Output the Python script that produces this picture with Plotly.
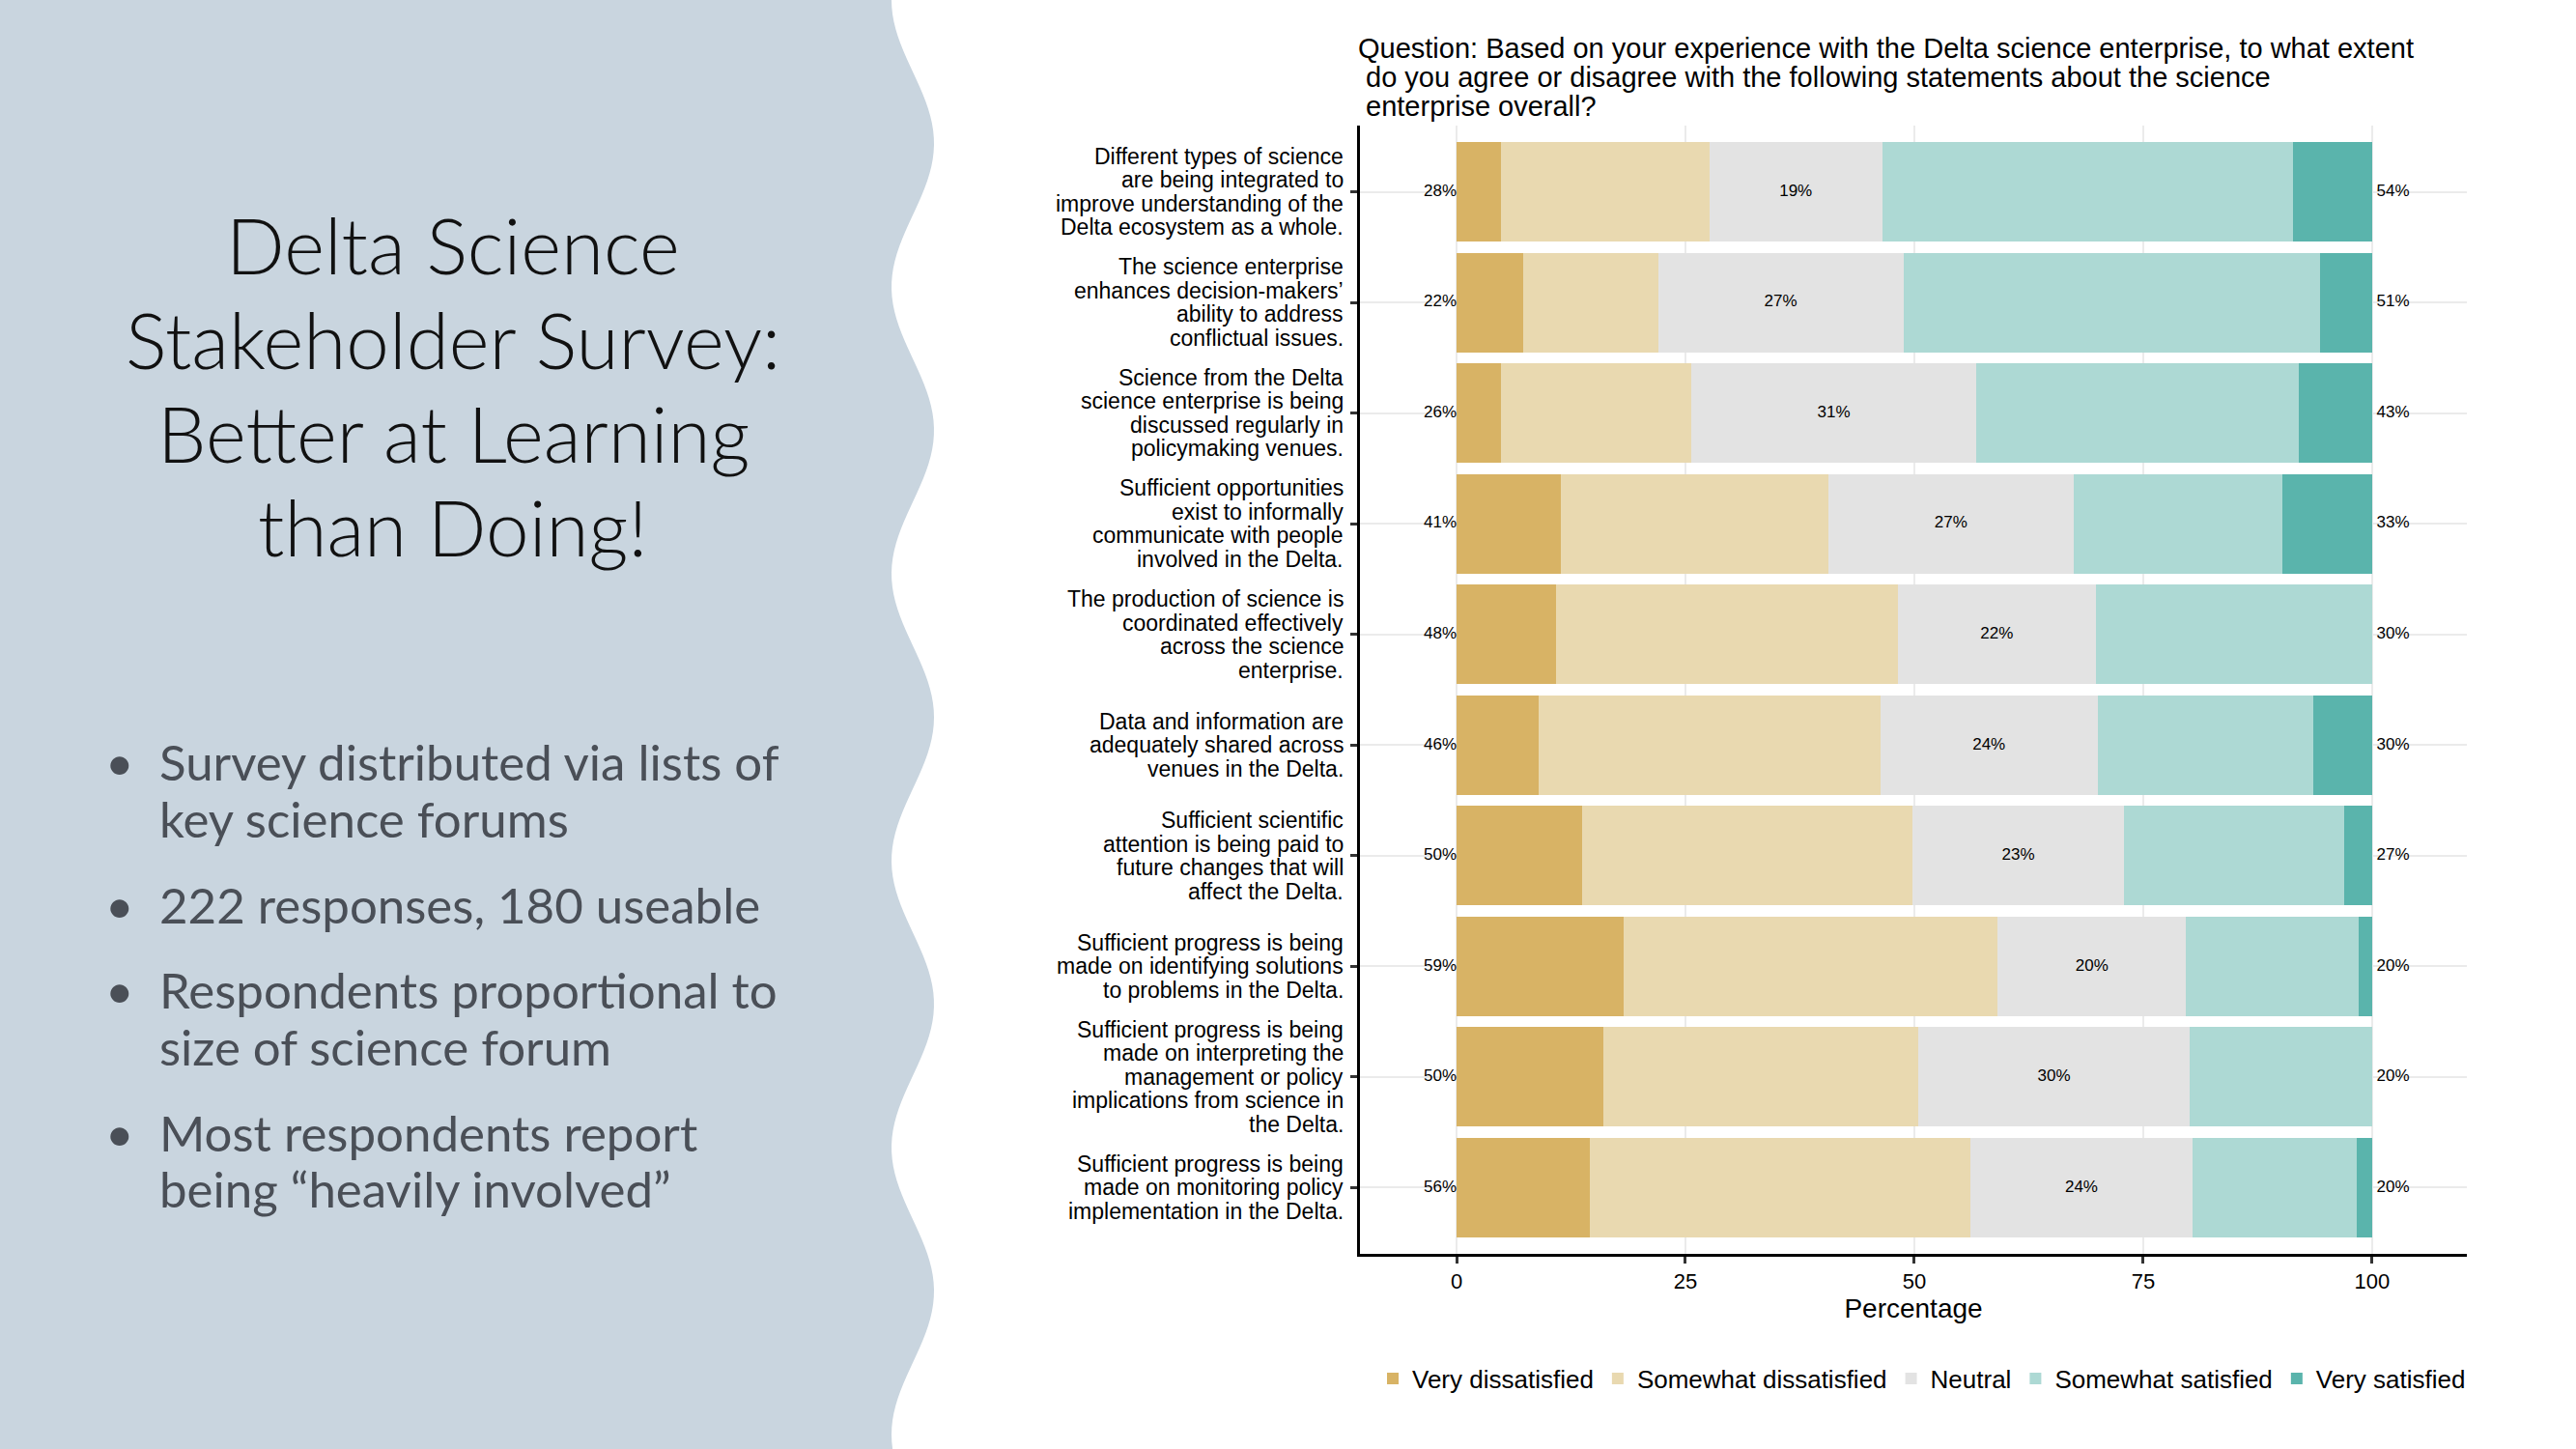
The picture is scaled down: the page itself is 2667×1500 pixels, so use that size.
import numpy as np
import plotly.graph_objects as go

W, H = 2667, 1500

# statements, top to bottom
statements = [
    "Different types of science<br>are being integrated to<br>improve understanding of the<br>Delta ecosystem as a whole.",
    "The science enterprise<br>enhances decision-makers’<br>ability to address<br>conflictual issues.",
    "Science from the Delta<br>science enterprise is being<br>discussed regularly in<br>policymaking venues.",
    "Sufficient opportunities<br>exist to informally<br>communicate with people<br>involved in the Delta.",
    "The production of science is<br>coordinated effectively<br>across the science<br>enterprise.",
    "Data and information are<br>adequately shared across<br>venues in the Delta.",
    "Sufficient scientific<br>attention is being paid to<br>future changes that will<br>affect the Delta.",
    "Sufficient progress is being<br>made on identifying solutions<br>to problems in the Delta.",
    "Sufficient progress is being<br>made on interpreting the<br>management or policy<br>implications from science in<br>the Delta.",
    "Sufficient progress is being<br>made on monitoring policy<br>implementation in the Delta.",
]

very_dissatisfied = [4.8, 7.3, 4.9, 11.4, 10.9, 9.0, 13.7, 18.2, 16.0, 14.6]
somewhat_dissatisfied = [22.8, 14.7, 20.7, 29.2, 37.3, 37.3, 36.1, 40.9, 34.4, 41.5]
neutral = [18.9, 26.8, 31.2, 26.8, 21.6, 23.7, 23.1, 20.6, 29.7, 24.3]
somewhat_satisfied = [44.9, 45.5, 35.2, 22.8, 30.2, 23.6, 24.0, 18.8, 19.9, 17.9]
very_satisfied = [8.6, 5.7, 8.0, 9.8, 0.0, 6.4, 3.1, 1.5, 0.0, 1.7]

# printed percentages
low_pct = [28, 22, 26, 41, 48, 46, 50, 59, 50, 56]
neutral_pct = [19, 27, 31, 27, 22, 24, 23, 20, 30, 24]
high_pct = [54, 51, 43, 33, 30, 30, 27, 20, 20, 20]

x_ticks = [0, 25, 50, 75, 100]

levels = ["Very dissatisfied", "Somewhat dissatisfied", "Neutral",
          "Somewhat satisfied", "Very satisfied"]
colors = ["#D8B365", "#E9D9B0", "#E3E3E3", "#ADD9D4", "#5AB4AC"]

title_lines = ["Delta Science", "Stakeholder Survey:", "Better at Learning", "than Doing!"]
bullets = [
    ["Survey distributed via lists of", "key science forums"],
    ["222 responses, 180 useable"],
    ["Respondents proportional to", "size of science forum"],
    ["Most respondents report", "being “heavily involved”"],
]

question_lines = [
    "Question: Based on your experience with the Delta science enterprise, to what extent",
    "\u00a0do you agree or disagree with the following statements about the science",
    "\u00a0enterprise overall?",
]

CHART_FONT = "Liberation Sans, Arial, sans-serif"
SLIDE_FONT = "Lato, Open Sans, sans-serif"


def px(x):
    return x / W


def py(y):
    return 1 - y / H


fig = go.Figure()

series = [very_dissatisfied, somewhat_dissatisfied, neutral, somewhat_satisfied, very_satisfied]
for name, vals, col in zip(levels, series, colors):
    fig.add_trace(go.Bar(
        y=statements, x=vals, name=name, orientation="h",
        marker=dict(color=col, line=dict(width=0)),
        hoverinfo="skip",
    ))

low_sum = [a + b for a, b in zip(very_dissatisfied, somewhat_dissatisfied)]
mid_pos = [s + n / 2 for s, n in zip(low_sum, neutral)]

label_font = dict(size=17, color="black", family=CHART_FONT)
fig.add_trace(go.Scatter(
    x=[0] * len(statements), y=statements, mode="text",
    text=[f"{v}%" for v in low_pct], textposition="middle left",
    textfont=label_font, showlegend=False, hoverinfo="skip", cliponaxis=False,
))
fig.add_trace(go.Scatter(
    x=mid_pos, y=statements, mode="text",
    text=[f"{v}%" for v in neutral_pct], textposition="middle center",
    textfont=label_font, showlegend=False, hoverinfo="skip", cliponaxis=False,
))
fig.add_trace(go.Scatter(
    x=[100] * len(statements), y=statements, mode="text",
    text=[f"\u00a0{v}%" for v in high_pct], textposition="middle right",
    textfont=label_font, showlegend=False, hoverinfo="skip", cliponaxis=False,
))

# left slide panel with wavy edge
ys = np.linspace(0, H, 201)
edge = 945 - 22 * np.cos(2 * np.pi * ys / 297)
path = "M0,1 " + " ".join(f"L{px(x):.5f},{py(y):.5f}" for x, y in zip(edge, ys)) + " L0,0 Z"

shapes = [dict(type="path", path=path, xref="paper", yref="paper",
               fillcolor="#C9D5DF", line=dict(width=0), layer="below")]

annotations = []
title_y = [253, 351, 448, 545]
for line, y in zip(title_lines, title_y):
    annotations.append(dict(
        x=px(469), y=py(y), xref="paper", yref="paper",
        text=line, showarrow=False, xanchor="center", yanchor="middle",
        font=dict(family=SLIDE_FONT, size=80, color="#111111", weight=300),
    ))

bullet_y = [[788, 847], [936], [1024, 1083], [1172, 1230]]
for lines, ylist in zip(bullets, bullet_y):
    annotations.append(dict(
        x=px(124), y=py(ylist[0]), xref="paper", yref="paper",
        text="•", showarrow=False, xanchor="center", yanchor="middle",
        font=dict(family=SLIDE_FONT, size=51, color="#4A4F57"),
    ))
    for line, y in zip(lines, ylist):
        annotations.append(dict(
            x=px(163), y=py(y), xref="paper", yref="paper",
            text=line, showarrow=False, xanchor="left", yanchor="middle",
            font=dict(family=SLIDE_FONT, size=51, color="#4A4F57"),
        ))

for i, line in enumerate(question_lines):
    annotations.append(dict(
        x=px(1404), y=py(50 + 30 * i), xref="paper", yref="paper",
        text=line, showarrow=False, xanchor="left", yanchor="middle", align="left",
        font=dict(family=CHART_FONT, size=29, color="black"),
    ))

# statement labels, one line at a time so the leading stays tight
LINE_STEP = 24.5
for s in statements:
    parts = s.split("<br>")
    n = len(parts)
    for j, part in enumerate(parts):
        annotations.append(dict(
            x=px(1393), xref="paper", y=s, yref="y",
            yshift=((n - 1) / 2 - j) * LINE_STEP,
            text=part, showarrow=False, xanchor="right", yanchor="middle",
            font=dict(family=CHART_FONT, size=23, color="black"),
        ))

fig.update_layout(
    width=W, height=H,
    margin=dict(l=0, r=0, t=0, b=0),
    paper_bgcolor="white", plot_bgcolor="white",
    barmode="stack", bargap=0.1,
    font=dict(family=CHART_FONT, color="black"),
    shapes=shapes, annotations=annotations,
    legend=dict(
        orientation="h", x=px(1990), xanchor="center", y=py(1427), yanchor="middle",
        font=dict(size=26, family=CHART_FONT, color="black"),
        traceorder="normal", bgcolor="rgba(0,0,0,0)",
    ),
    xaxis=dict(
        domain=[px(1408), px(2554)], range=[-10.55, 110.35],
        tickvals=x_ticks, ticktext=[str(t) for t in x_ticks],
        showgrid=True, gridcolor="#EBEBEB", gridwidth=2, zeroline=False,
        showline=True, linecolor="black", linewidth=2.5,
        ticks="outside", ticklen=7, tickwidth=2.5, tickcolor="#333333",
        tickfont=dict(size=22, color="black"),
        title=dict(text="Percentage", font=dict(size=28, color="black"), standoff=4),
    ),
    yaxis=dict(
        domain=[py(1298), py(130)], range=[9.6, -0.6],
        categoryorder="array", categoryarray=statements,
        showgrid=True, gridcolor="#EBEBEB", gridwidth=2, zeroline=False,
        showline=True, linecolor="black", linewidth=2.5,
        ticks="outside", ticklen=7, tickwidth=2.5, tickcolor="#333333",
        showticklabels=False,
    ),
)

fig.write_html("out.html", config={"displayModeBar": False},
               post_script="document.body.style.margin='0px';")
